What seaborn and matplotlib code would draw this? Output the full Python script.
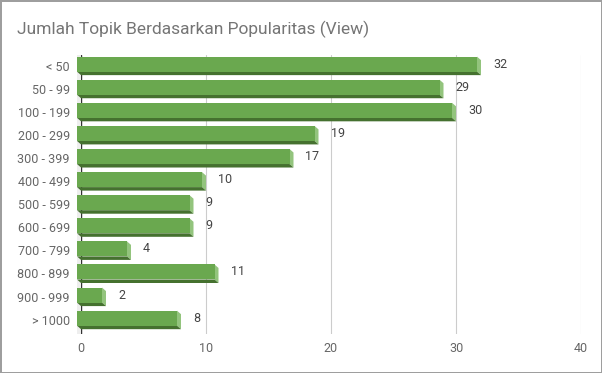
import matplotlib
matplotlib.use('Agg')
import matplotlib.pyplot as plt
import matplotlib.transforms as mtransforms
from matplotlib.patches import Polygon, Rectangle
import seaborn as sns

categories = ['< 50', '50 - 99', '100 - 199', '200 - 299', '300 - 399', '400 - 499',
              '500 - 599', '600 - 699', '700 - 799', '800 - 899', '900 - 999', '> 1000']
topic_counts = [32, 29, 30, 19, 17, 10, 9, 9, 4, 11, 2, 8]
x_ticks = [0, 10, 20, 30, 40]
title = 'Jumlah Topik Berdasarkan Popularitas (View)'

FRONT = '#6aa84f'
SIDE = '#93c47d'
BOTTOM = '#45712f'

sns.set_style('white')
plt.rcParams['font.family'] = ['Roboto', 'DejaVu Sans']

DPI = 100
fig = plt.figure(figsize=(6.02, 3.73), dpi=DPI, edgecolor='#9e9e9e', linewidth=2)
ax = fig.add_axes([81 / 602, 1 - 334 / 373, 500 / 602, 279 / 373])

sns.barplot(x=topic_counts, y=categories, orient='h', color=FRONT, saturation=1,
            width=0.65, ax=ax, zorder=3, linewidth=0)

ax.set_xlim(0, 40)
ax.set_ylim(11.62, -0.46)
ax.set_xticks(x_ticks)
ax.grid(axis='x', color='#cccccc', linewidth=0.8, zorder=0)
ax.grid(axis='y', visible=False)
ax.set_axisbelow(True)
sns.despine(ax=ax, left=True, bottom=True)
ax.set_xlabel('')
ax.set_ylabel('')

# data units per pixel, for the 3d depth
ux = 40 / 500
uy = 12.08 / 279
dx, dy = 4, 3.5

# front faces sit a little left/up of the back plane
front_tr = ax.transData + mtransforms.ScaledTranslation(-dx / DPI, 1.5 / DPI, fig.dpi_scale_trans)

for p, v in zip(ax.patches, topic_counts):
    p.set_transform(front_tr)
    p.set_clip_on(False)
    top = p.get_y()
    bot = top + p.get_height()
    side = Polygon([(v, top), (v + dx * ux, top + dy * uy), (v + dx * ux, bot + dy * uy), (v, bot)],
                   closed=True, facecolor=SIDE, edgecolor='none', transform=front_tr, zorder=2.9,
                   clip_on=False)
    bottom = Polygon([(0, bot), (v, bot), (v + dx * ux, bot + dy * uy), (dx * ux, bot + dy * uy)],
                     closed=True, facecolor=BOTTOM, edgecolor='none', transform=front_tr, zorder=2.9,
                     clip_on=False)
    ax.add_patch(side)
    ax.add_patch(bottom)
    ax.annotate(str(v), xy=(v, (top + bot) / 2), xycoords=front_tr,
                xytext=(16, 0), textcoords='offset pixels', ha='left', va='center',
                fontsize=9, color='#444444')

# zero wall and axis line
wall = Rectangle((-dx * ux, 0), dx * ux, 1, transform=ax.get_xaxis_transform(),
                 facecolor='#eeeeee', edgecolor='none', clip_on=False, zorder=1)
ax.add_patch(wall)
ax.axvline(0, color='#333333', linewidth=1, zorder=2)

ax.tick_params(axis='y', length=0, pad=8, labelcolor='#666666', labelsize=9)
ax.tick_params(axis='x', length=0, pad=6, labelcolor='#666666', labelsize=9)

fig.text(17 / 602, 1 - 29 / 373, title, ha='left', va='center', fontsize=12.5, color='#757575')

fig.savefig('out.png', dpi=DPI, edgecolor=fig.get_edgecolor())
